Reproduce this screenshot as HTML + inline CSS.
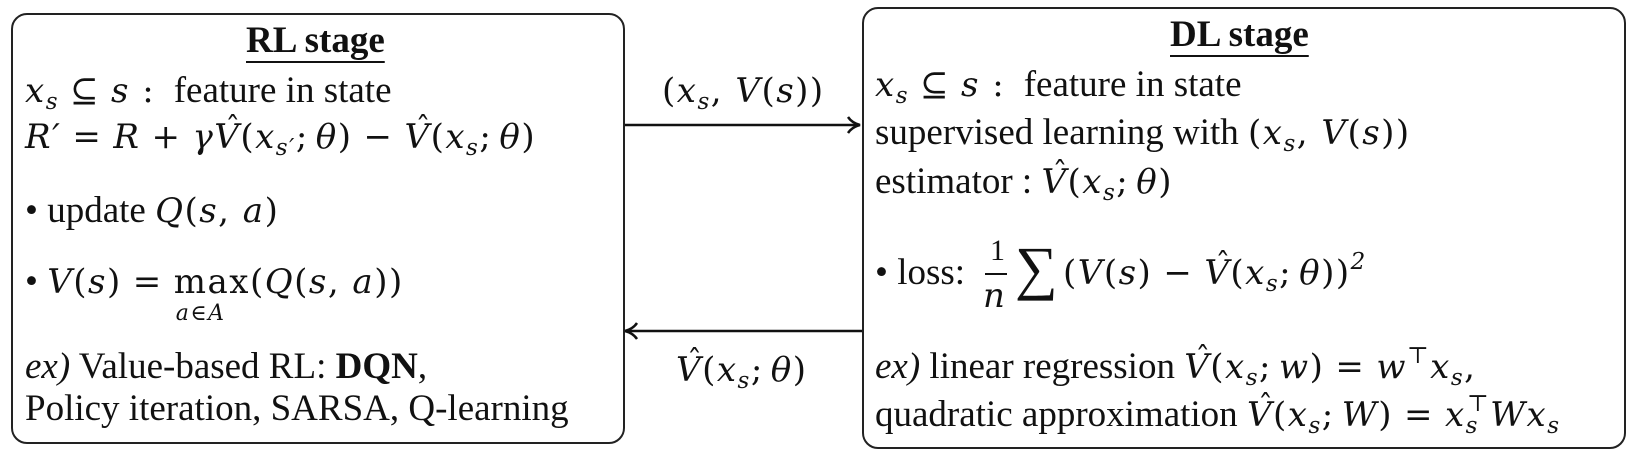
<!DOCTYPE html>
<html><head><meta charset="utf-8"><style>
body{margin:0;width:1636px;height:456px;background:#fff;position:relative;overflow:hidden;font-family:"Liberation Serif",serif;color:#111}
.box{position:absolute;border:2px solid #222;border-radius:16px;box-sizing:border-box}
.t{position:absolute;font-size:37px;line-height:42px;white-space:nowrap}
.m{font-family:"DejaVu Serif",serif;font-size:34px;font-style:italic;letter-spacing:1.5px}
.m .r{font-style:normal}
.sc{margin-right:7px}
.o{font-family:"DejaVu Serif",serif;font-style:normal;margin:0 11px;font-size:34px}
sub{font-size:23px;vertical-align:-7px;line-height:0}
sup{font-size:23px;vertical-align:15px;line-height:0}
.h{position:relative;display:inline-block}
.h::before{content:"ˆ";position:absolute;left:11px;top:-8px;font-style:normal;font-size:30px}
.title{font-weight:bold;text-decoration:underline;text-underline-offset:9px;text-decoration-thickness:2px}
.mx{position:relative;display:inline-block;font-style:normal}
.mx span{position:absolute;left:2px;top:32px;font-size:22px;font-style:italic}
</style></head><body>
<div class="box" style="left:11px;top:13px;width:614px;height:431px"></div>
<div class="box" style="left:862px;top:7px;width:764px;height:442px"></div>

<div class="t title" style="left:246px;top:20px">RL stage</div>
<div class="t" style="left:25px;top:70px"><span class="m">x<sub>s</sub><span class="o">⊆</span>s<span class="r"> :</span></span>&nbsp; feature in state</div>
<div class="t" style="left:25px;top:116px"><span class="m">R′<span class="o">=</span>R<span class="o">+</span>γ<i class="h">V</i><span class="r">(</span>x<sub>s′</sub><span class="r sc">;</span>θ<span class="r">)</span><span class="o">−</span><i class="h">V</i><span class="r">(</span>x<sub>s</sub><span class="r sc">;</span>θ<span class="r">)</span></span></div>
<div class="t" style="left:25px;top:190px">• update <span class="m">Q<span class="r">(</span>s<span class="r">,</span> a<span class="r">)</span></span></div>
<div class="t" style="left:25px;top:261px">• <span class="m">V<span class="r">(</span>s<span class="r">)</span><span class="o">=</span><span class="mx">max<span>a∈A</span></span><span class="r">(</span>Q<span class="r">(</span>s<span class="r">,</span> a<span class="r">))</span></span></div>
<div class="t" style="left:25px;top:346px"><i>ex)</i> Value-based RL: <b>DQN</b>,</div>
<div class="t" style="left:25px;top:388px">Policy iteration, SARSA, Q-learning</div>

<div class="t title" style="left:1170px;top:14px">DL stage</div>
<div class="t" style="left:875px;top:64px"><span class="m">x<sub>s</sub><span class="o">⊆</span>s<span class="r"> :</span></span>&nbsp; feature in state</div>
<div class="t" style="left:875px;top:112px">supervised learning with <span class="m"><span class="r">(</span>x<sub>s</sub><span class="r">,</span> V<span class="r">(</span>s<span class="r">))</span></span></div>
<div class="t" style="left:875px;top:161px">estimator :&nbsp;<span class="m"><i class="h">V</i><span class="r">(</span>x<sub>s</sub><span class="r sc">;</span>θ<span class="r">)</span></span></div>
<div class="t" style="left:875px;top:252px">• loss:</div>
<div class="t" style="left:990px;top:230px;font-size:30px">1</div>
<div style="position:absolute;left:985px;top:273px;width:22px;height:2px;background:#111"></div>
<div class="t" style="left:983px;top:275px"><span class="m">n</span></div>
<div class="t" style="left:1015px;top:236px;font-size:60px;line-height:64px">∑</div>
<div class="t" style="left:1063px;top:252px"><span class="m"><span class="r">(</span>V<span class="r">(</span>s<span class="r">)</span><span class="o">−</span><i class="h">V</i><span class="r">(</span>x<sub>s</sub><span class="r sc">;</span>θ<span class="r">))</span><sup>2</sup></span></div>
<div class="t" style="left:875px;top:346px"><i>ex)</i> linear regression <span class="m"><i class="h">V</i><span class="r">(</span>x<sub>s</sub><span class="r sc">;</span>w<span class="r">)</span><span class="o">=</span>w<sup class="r">⊤</sup>x<sub>s</sub><span class="r">,</span></span></div>
<div class="t" style="left:875px;top:394px">quadratic approximation <span class="m"><i class="h">V</i><span class="r">(</span>x<sub>s</sub><span class="r sc">;</span>W<span class="r">)</span><span class="o">=</span>x<sub>s</sub><sup class="r" style="margin-left:-12px">⊤</sup>Wx<sub>s</sub></span></div>

<svg style="position:absolute;left:0;top:0" width="1636" height="456">
<line x1="625" y1="125" x2="858" y2="125" stroke="#111" stroke-width="2.5"/>
<path d="M848 117 Q852 123 860 125 Q852 127 848 133" fill="none" stroke="#111" stroke-width="2.5"/>
<line x1="627" y1="331" x2="862" y2="331" stroke="#111" stroke-width="2.5"/>
<path d="M637 323 Q633 329 625 331 Q633 333 637 339" fill="none" stroke="#111" stroke-width="2.5"/>
</svg>
<div class="t" style="left:662px;top:70px"><span class="m"><span class="r">(</span>x<sub>s</sub><span class="r">,</span> V<span class="r">(</span>s<span class="r">))</span></span></div>
<div class="t" style="left:676px;top:349px"><span class="m"><i class="h">V</i><span class="r">(</span>x<sub>s</sub><span class="r sc">;</span>θ<span class="r">)</span></span></div>
</body></html>
